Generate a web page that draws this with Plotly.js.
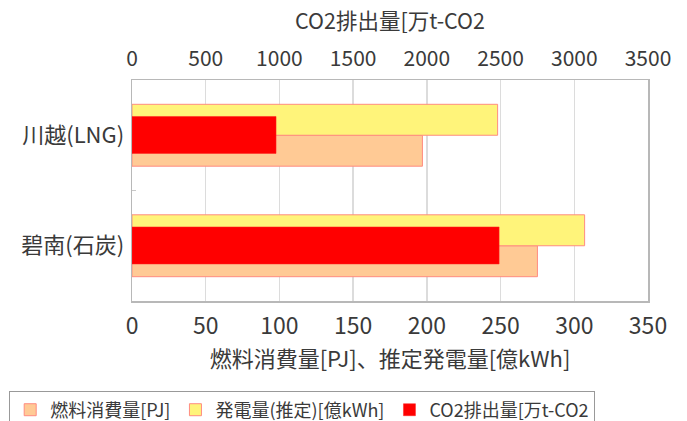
<!DOCTYPE html>
<html>
<head>
<meta charset="utf-8">
<script src="https://cdn.plot.ly/plotly-3.0.1.min.js"></script>
<style>html,body{margin:0;padding:0;background:#fff;}#chart{width:687px;height:421px;}</style>
</head>
<body>
<div id="chart"></div>
<script>
// Data
const categories = ['川越(LNG)', '碧南(石炭)'];
const fuelPJ = [197, 275];          // 燃料消費量[PJ]
const genTWh = [248, 307];          // 発電量(推定)[億kWh]
const co2 = [977, 2490];            // CO2排出量[万t-CO2]
const seriesNames = ['燃料消費量[PJ]', '発電量(推定)[億kWh]', 'CO2排出量[万t-CO2'];
const bottomTitle = '燃料消費量[PJ]、推定発電量[億kWh]';
const topTitle = 'CO2排出量[万t-CO2';

const FONT = '"Noto Sans CJK JP", "Noto Sans", sans-serif';
const TXT = '#3a3a3a';

const traces = [
  {type:'bar', orientation:'h', name:seriesNames[0], y:categories, x:fuelPJ,
   xaxis:'x', yaxis:'y', offset:0, width:0.28,
   marker:{color:'#FFCA95', line:{color:'#FF8C80', width:1}}},
  {type:'bar', orientation:'h', name:seriesNames[1], y:categories, x:genTWh,
   xaxis:'x', yaxis:'y', offset:-0.28, width:0.28,
   marker:{color:'#FFF47A', line:{color:'#FF8C80', width:1}}},
  {type:'bar', orientation:'h', name:seriesNames[2], y:categories, x:co2,
   xaxis:'x2', yaxis:'y', offset:-0.17, width:0.335,
   marker:{color:'#FF0000', line:{color:'#FF2020', width:0.5}}}
];

const layout = {
  width:687, height:421,
  margin:{l:132, r:39, t:80, b:120, autoexpand:false},
  paper_bgcolor:'#fff', plot_bgcolor:'#fff',
  font:{family:FONT, color:TXT, size:18},
  barmode:'overlay',
  showlegend:true,
  xaxis:{
    range:[0,350], dtick:50, tick0:0,
    showgrid:true, gridcolor:'#dcdcdc', gridwidth:1.5,
    showline:true, linecolor:'#b8b8b8', linewidth:1.5, mirror:true,
    zeroline:false, ticks:'', ticklabelstandoff:4,
    tickfont:{size:23, color:TXT},
    title:{text:bottomTitle, font:{size:22, color:TXT}, standoff:1}
  },
  xaxis2:{
    range:[0,3500], dtick:500, tick0:0, overlaying:'x', side:'top', anchor:'y',
    showgrid:false, showline:false, zeroline:false, ticks:'', ticklabelstandoff:9,
    tickfont:{size:21, color:TXT},
    title:{text:topTitle, font:{size:21.5, color:TXT}, standoff:6}
  },
  yaxis:{
    type:'category', categoryarray:categories, categoryorder:'array',
    range:[1.5,-0.5],
    showgrid:false, showline:true, linecolor:'#b8b8b8', linewidth:1.5, mirror:true,
    zeroline:false, ticks:'inside', tickson:'boundaries', ticklen:4, tickcolor:'#c8c8c8',
    tickfont:{size:22, color:TXT}, ticklabelstandoff:2
  },
  legend:{
    orientation:'h', x:-0.238, xanchor:'left', y:-0.405, yanchor:'top',
    font:{size:18, color:TXT}, bordercolor:'#999', borderwidth:1,
    bgcolor:'#fff', traceorder:'normal', itemwidth:30, tracegroupgap:0
  }
};

Plotly.newPlot('chart', traces, layout, {displayModeBar:false, staticPlot:true});
</script>
</body>
</html>
